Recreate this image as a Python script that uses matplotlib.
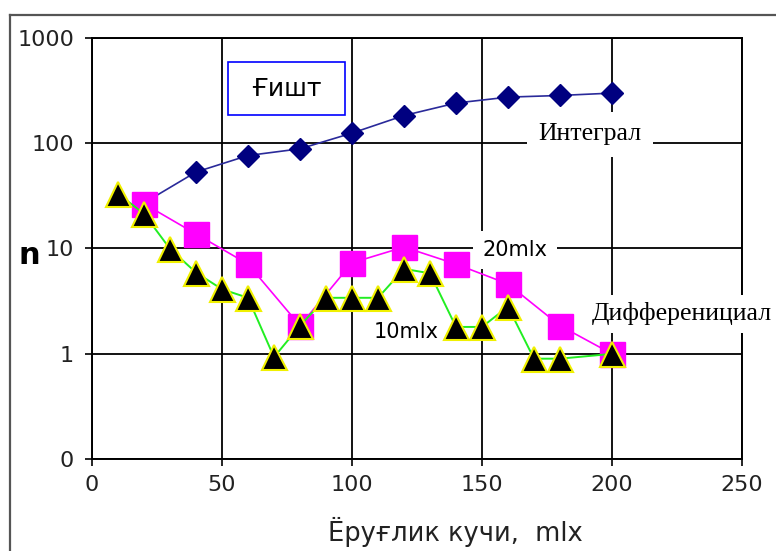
import matplotlib.pyplot as plt
from matplotlib.lines import Line2D
from matplotlib.patches import Rectangle
from matplotlib.ticker import NullLocator

# integral count, 20 mlx step
integralX = [20, 40, 60, 80, 100, 120, 140, 160, 180, 200]
integralN = [27, 53, 76, 88, 124, 182, 239, 272, 282, 297]

# differential count, 20 mlx step
diff20X = [20, 40, 60, 80, 100, 120, 140, 160, 180, 200]
diff20N = [26.5, 13.7, 7.1, 1.85, 7.3, 10.3, 7.1, 4.6, 1.85, 1.0]

# differential count, 10 mlx step
diff10X = [10, 20, 30, 40, 50, 60, 70, 80, 90, 100, 110, 120, 130, 140, 150, 160, 170, 180, 200]
diff10N = [33, 21.3, 9.9, 5.9, 4.1, 3.4, 0.93, 1.85, 3.4, 3.4, 3.4, 6.4, 5.8, 1.8, 1.8, 2.8, 0.9, 0.9, 1.0]

xTicks = [0, 50, 100, 150, 200, 250]
yTicks = [0.1, 1, 10, 100, 1000]
yTickLabels = ["0", "1", "10", "100", "1000"]

fig = plt.figure(figsize=(7.76, 5.51), dpi=100)
ax = fig.add_axes([92 / 776, 91.7 / 551, 650 / 776, 421.8 / 551])

ax.plot(integralX, integralN, color="#2a2a9a", lw=1.2, marker="D", markersize=11,
        markerfacecolor="#000080", markeredgecolor="#000080", zorder=3)
ax.plot(diff20X, diff20N, color="#ff00ff", lw=1.2, marker="s", markersize=18,
        markerfacecolor="#ff00ff", markeredgecolor="#ff00ff", zorder=4)
ax.plot(diff10X, diff10N, color="#22ee22", lw=1.4, marker="^", markersize=18,
        markerfacecolor="black", markeredgecolor="#f0f000", markeredgewidth=1.5, zorder=5)

ax.set_yscale("log")
ax.set_xlim(0, 250)
ax.set_ylim(0.1, 1000)
ax.set_xticks(xTicks)
ax.set_yticks(yTicks)
ax.set_yticklabels(yTickLabels)
ax.yaxis.set_minor_locator(NullLocator())
ax.grid(True, color="black", lw=1.3)
ax.set_axisbelow(True)
for s in ax.spines.values():
    s.set_linewidth(1.4)
ax.tick_params(axis="both", direction="out", length=5, width=1.2, labelsize=16, labelcolor="#222222")
ax.tick_params(axis="y", pad=8)
ax.tick_params(axis="x", pad=6)

# labels on the chart
ax.add_patch(Rectangle((0.209, 0.816), 0.18, 0.126, transform=ax.transAxes,
                       facecolor="white", edgecolor="#0000ff", lw=1.2, zorder=6))
ax.text(0.299, 0.879, "Ғишт", transform=ax.transAxes, ha="center", va="center",
        fontsize=18, zorder=7)
ax.text(0.766, 0.771, "Интеграл", transform=ax.transAxes, ha="center", va="center",
        fontsize=18.5, family="Liberation Serif", zorder=7,
        bbox=dict(boxstyle="square,pad=0.45", facecolor="white", edgecolor="none"))
ax.text(0.651, 0.496, "20mlx", transform=ax.transAxes, ha="center", va="center",
        fontsize=15, zorder=7,
        bbox=dict(boxstyle="square,pad=0.45", facecolor="white", edgecolor="none"))
ax.text(0.483, 0.3025, "10mlx", transform=ax.transAxes, ha="center", va="center",
        fontsize=15, zorder=7)
ax.text(0.769, 0.3445, "Дифференициал", transform=ax.transAxes, ha="left", va="center",
        fontsize=18.5, family="Liberation Serif", zorder=7, clip_on=False,
        bbox=dict(boxstyle="square,pad=0.3", facecolor="white", edgecolor="none"))

fig.text(29 / 776, 1 - 255 / 551, "n", fontsize=22, fontweight="bold", ha="center", va="center")
fig.text(455 / 776, 1 - 532 / 551, "Ёруғлик кучи,  mlx", fontsize=18.5, ha="center", va="center",
         color="#222222")

# outer chart frame (left and top edges)
fig.add_artist(Line2D([9.5 / 776, 9.5 / 776], [0, 1 - 15 / 551], transform=fig.transFigure,
                      color="#555555", lw=1.6))
fig.add_artist(Line2D([9.5 / 776, 1], [1 - 15 / 551, 1 - 15 / 551], transform=fig.transFigure,
                      color="#555555", lw=1.6))

fig.savefig("out.png", dpi=100)
